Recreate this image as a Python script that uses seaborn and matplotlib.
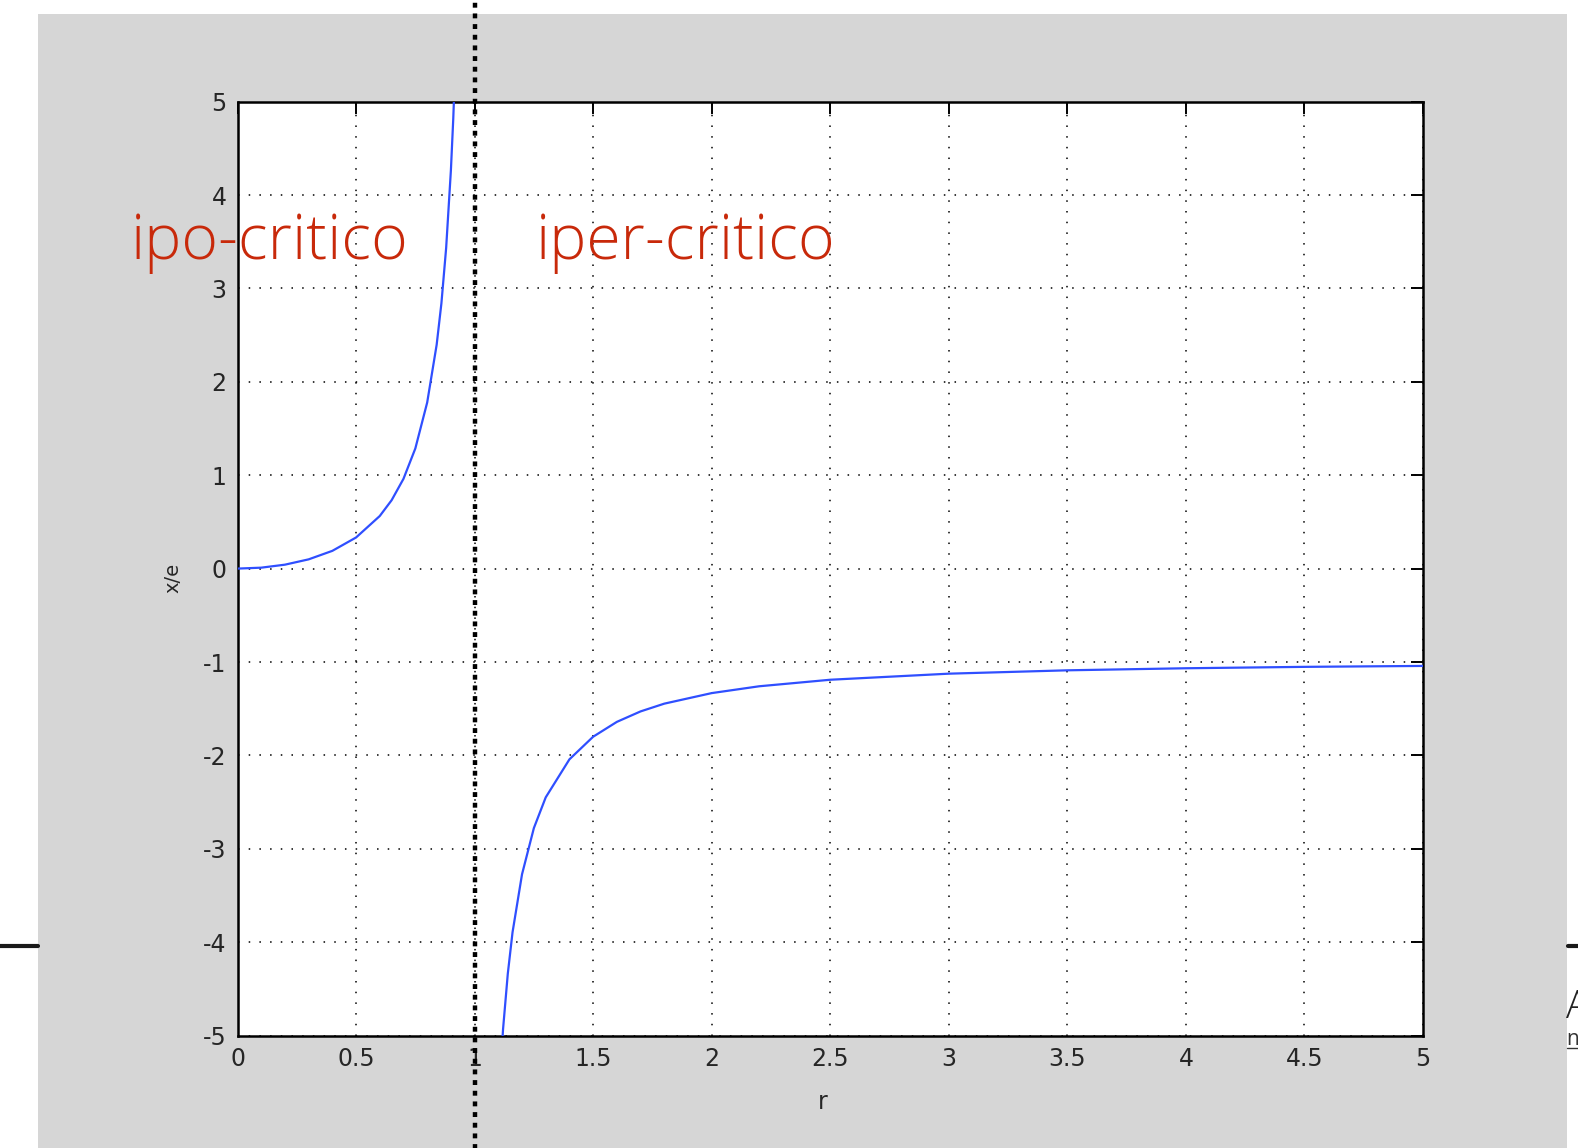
#!/usr/bin/env python3
"""Risposta di un sistema con massa sbilanciata rotante: x/e in funzione di r."""

import matplotlib

matplotlib.use("Agg")

import matplotlib.pyplot as plt
from matplotlib.lines import Line2D
from matplotlib.patches import Rectangle
import pandas as pd
import seaborn as sns


# ramo ipo-critico (r < 1)
r_ipo = [0.0, 0.1, 0.2, 0.3, 0.4, 0.5, 0.6, 0.65, 0.7, 0.75, 0.8, 0.84, 0.86, 0.88, 0.9, 0.91, 0.92]
x_ipo = [0.0, 0.010, 0.042, 0.099, 0.190, 0.333, 0.563, 0.732, 0.961, 1.286, 1.778, 2.397, 2.840,
         3.433, 4.263, 4.817, 5.510]

# ramo iper-critico (r > 1)
r_iper = [1.1, 1.12, 1.14, 1.16, 1.2, 1.25, 1.3, 1.4, 1.5, 1.6, 1.7, 1.8, 2.0, 2.2, 2.5, 3.0,
          3.5, 4.0, 4.5, 5.0]
x_iper = [-5.762, -4.931, -4.338, -3.894, -3.273, -2.778, -2.449, -2.042, -1.800, -1.641, -1.529,
          -1.446, -1.333, -1.260, -1.190, -1.125, -1.089, -1.067, -1.052, -1.042]

x_ticks = [0, 0.5, 1, 1.5, 2, 2.5, 3, 3.5, 4, 4.5, 5]
x_tick_labels = ["0", "0.5", "1", "1.5", "2", "2.5", "3", "3.5", "4", "4.5", "5"]
y_ticks = [-5, -4, -3, -2, -1, 0, 1, 2, 3, 4, 5]

W, H = 1578, 1148
BLUE = "#2f4fff"
RED = "#c8290a"
GRAY = "#d6d6d6"

sns.set_style("white")
plt.rcParams["font.family"] = ["DejaVu Sans"]

fig = plt.figure(figsize=(W / 100, H / 100), dpi=100)
fig.patch.set_facecolor("white")
fig.patches.append(Rectangle((38 / W, 0), (1567 - 38) / W, 1 - 14 / H,
                             transform=fig.transFigure, facecolor=GRAY, edgecolor="none", zorder=-1))
# righe nere orizzontali ai bordi della slide
for x0, x1 in [(0, 38), (1568, W)]:
    fig.add_artist(Line2D([x0 / W, x1 / W], [1 - 946 / H] * 2, transform=fig.transFigure,
                          color="#1a1a1a", linewidth=3.0))
# frammenti di testo della slide sul bordo destro
fig.text(1566 / W, 1 - 1018 / H, "A", fontsize=27, fontweight="light", color="#222222",
         family=["Open Sans", "DejaVu Sans"], ha="left", va="baseline")
fig.text(1566 / W, 1 - 1045 / H, "n", fontsize=15, color="#333333",
         family=["Open Sans", "DejaVu Sans"], ha="left", va="baseline")
fig.add_artist(Line2D([1567 / W, 1], [1 - 1048 / H] * 2, transform=fig.transFigure,
                      color="#333333", linewidth=1.0))

ax = fig.add_axes([237.5 / W, 1 - 1035.6 / H, (1423 - 237.5) / W, (1035.6 - 101.6) / H])
ax.set_zorder(1)
ax.set_facecolor("white")

ipo = pd.DataFrame({"r": r_ipo, "x/e": x_ipo})
iper = pd.DataFrame({"r": r_iper, "x/e": x_iper})
sns.lineplot(data=ipo, x="r", y="x/e", ax=ax, color=BLUE, linewidth=1.6, zorder=3)
sns.lineplot(data=iper, x="r", y="x/e", ax=ax, color=BLUE, linewidth=1.6, zorder=3)

ax.set_xlim(0, 5)
ax.set_ylim(-5, 5)
ax.set_xticks(x_ticks, x_tick_labels)
ax.set_yticks(y_ticks, [str(v) for v in y_ticks])
ax.grid(True, color="black", linestyle=(0, (1, 6)), linewidth=1.1)
ax.tick_params(direction="in", length=8.5, width=1.4, color="black", labelsize=17,
               top=True, right=True, pad=8)
for spine in ax.spines.values():
    spine.set_color("black")
    spine.set_linewidth(1.8)
ax.set_xlabel("")
ax.set_ylabel("")

# linea verticale di risonanza r = 1
ax.axvline(1, ymin=-0.121, ymax=1.11, clip_on=False, color="black", linewidth=3.2,
           linestyle=(0, (1.1, 1.3)), zorder=5)

fig.text(823 / W, 1 - 1102 / H, "r", ha="center", va="center", fontsize=17, zorder=4)
fig.text(173 / W, 1 - 578 / H, "x/e", ha="center", va="center", fontsize=14, rotation=90, zorder=4)

fig.text(131 / W, 1 - 259 / H, "ipo-critico", color=RED, fontsize=45, fontweight="light",
         family=["Open Sans", "DejaVu Sans"], ha="left", va="baseline", zorder=6)
fig.text(536 / W, 1 - 259 / H, "iper-critico", color=RED, fontsize=45, fontweight="light",
         family=["Open Sans", "DejaVu Sans"], ha="left", va="baseline", zorder=6)

fig.savefig("out.png", dpi=100)
